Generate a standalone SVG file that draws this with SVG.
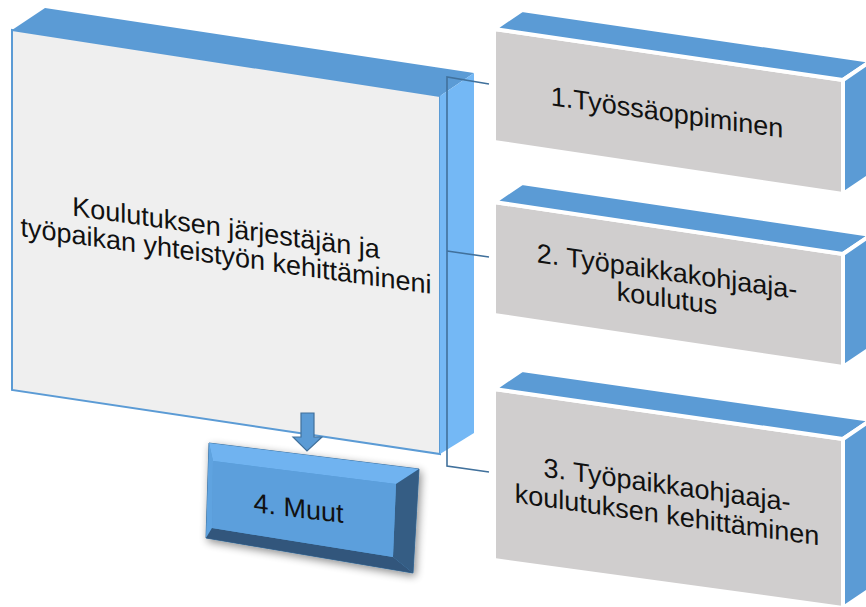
<svg xmlns="http://www.w3.org/2000/svg" width="866" height="607" viewBox="0 0 866 607">
<defs>
<style>
.lbl{font-family:"Liberation Sans",Arial,sans-serif;font-size:27px;fill:#111;text-anchor:middle}
.top{fill:#5b9bd5}
.side{fill:#5b9bd5}
.gface{fill:#d0cece}
.rb polygon{stroke:#fff;stroke-width:4;stroke-linejoin:round}
.conn{fill:none;stroke:#41719c;stroke-width:1.6}
</style>
<filter id="sh" x="-20%" y="-20%" width="140%" height="140%">
<feGaussianBlur in="SourceAlpha" stdDeviation="4"/>
<feOffset dx="2" dy="3" result="b"/>
<feComponentTransfer><feFuncA type="linear" slope="0.45"/></feComponentTransfer>
<feMerge><feMergeNode/><feMergeNode in="SourceGraphic"/></feMerge>
</filter>
</defs>
<rect width="866" height="607" fill="#fff"/>

<g id="main">
<polygon points="12,30 440,96 440,454 12,390" fill="#efefef" stroke="#5b9bd5" stroke-width="2"/>
<polygon points="12,30 45,8 474,73 440,96" fill="#5b9bd5"/>
<polygon points="440,96 474,73 474,433 440,454" fill="#74b8f5"/>
<text class="lbl" transform="translate(226,237) skewY(8)"><tspan x="0" y="0">Koulutuksen järjestäjän ja</tspan><tspan x="0" y="28">työpaikan yhteistyön kehittämineni</tspan></text>
</g>

<g id="connectors">
<polyline class="conn" points="489,84 447,77 447,466 489,472"/>
<line class="conn" x1="447" y1="251" x2="489" y2="257"/>
<polygon points="301,413 314,413 314,437 322,437 307,451 293,437 301,437" fill="#5b9bd5" stroke="#41719c" stroke-width="1.2"/>
</g>

<g id="box1" class="rb">
<polygon class="gface" points="494,29 843,80 843,194 494,142"/>
<polygon class="top" points="494,29 522,10 871,61 843,80"/>
<polygon class="side" points="843,80 871,61 871,175 843,194"/>
<text class="lbl" transform="translate(667,121.5) skewY(8)"><tspan x="0" y="0">1.Työssäoppiminen</tspan></text>
</g>

<g id="box2" class="rb">
<polygon class="gface" points="494,202 843,254 843,367 494,315"/>
<polygon class="top" points="494,202 522,183 871,235 843,254"/>
<polygon class="side" points="843,254 871,235 871,348 843,367"/>
<text class="lbl" transform="translate(667,280.5) skewY(8)"><tspan x="0" y="0">2. Työpaikkakohjaaja-</tspan><tspan x="0" y="27">koulutus</tspan></text>
</g>

<g id="box3" class="rb">
<polygon class="gface" points="494,389 843,439 843,608 494,560"/>
<polygon class="top" points="494,389 522,370 871,420 843,439"/>
<polygon class="side" points="843,439 871,420 871,589 843,608"/>
<text class="lbl" transform="translate(667,494) skewY(8)"><tspan x="0" y="0">3. Työpaikkaohjaaja-</tspan><tspan x="0" y="30">koulutuksen kehittäminen</tspan></text>
</g>

<g id="box4">
<g filter="url(#sh)">
<polygon points="209,443 419,469 413,573 206,538" fill="#5b9bd5" stroke="#41719c" stroke-width="1"/>
<polygon points="209,443 419,469 396,484 213,461" fill="#6fb3f0"/>
<polygon points="209,443 213,461 212,528 206,538" fill="#5fa3e0"/>
<polygon points="419,469 413,573 393,557 396,484" fill="#355d84"/>
<polygon points="206,538 212,528 393,557 413,573" fill="#30567b"/>
<polygon points="213,461 396,484 393,557 212,528" fill="#5b9fdc"/>
</g>
<text class="lbl" fill="#1a1a1a" transform="translate(298.5,517.5) skewY(7)"><tspan x="0" y="0">4. Muut</tspan></text>
</g>
</svg>
